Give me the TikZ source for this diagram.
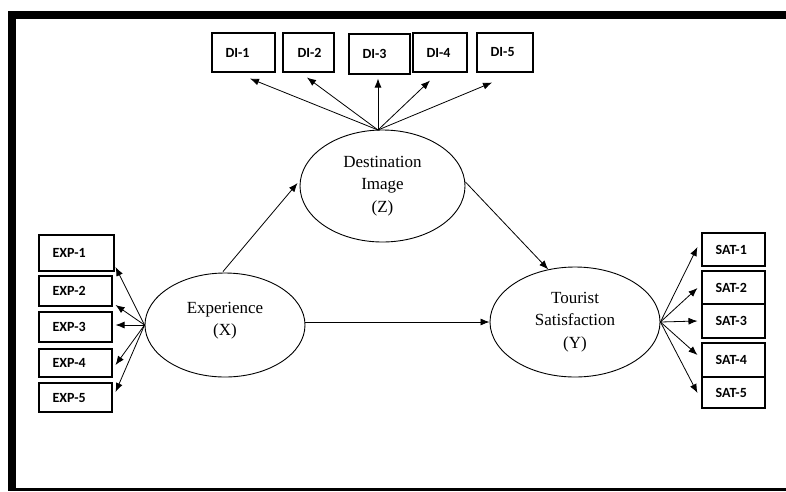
\documentclass[tikz,border=0pt]{standalone}
\usepackage{fontspec}
\setmainfont{Liberation Serif}
\newfontfamily\lblfont{Carlito}
\usetikzlibrary{arrows.meta,shapes.geometric,calc}
\begin{document}
\begin{tikzpicture}[x=1pt,y=-1pt,
  box/.style={draw,line width=1.1pt,inner sep=0pt},
  lbl/.style={font=\lblfont\bfseries\fontsize{14}{16}\selectfont,inner sep=0pt,anchor=west,xshift=14pt},
  latent/.style={draw,ellipse,line width=0.9pt,inner sep=0pt,align=center,font=\fontsize{17}{22.5}\selectfont},
  arr/.style={line width=0.8pt,-{Latex[length=9pt,width=7pt]}},
  framebar/.style={fill=black,draw=none}]
\useasboundingbox (0,0) rectangle (786,491);
% frame
\fill[framebar] (8,11) rectangle (786,19);
\fill[framebar] (8,11) rectangle (16,491);
\fill[framebar] (8,488) rectangle (786,491);
% latent variables
\node[latent,minimum width=165pt,minimum height=112pt] (dest) at (382.5,186) {Destination\\Image\\(Z)};
\node[latent,minimum width=160pt,minimum height=104pt] (exp) at (225,325) {Experience\\(X)\\[-10pt]};
\node[latent,minimum width=170pt,minimum height=110pt] (sat) at (575,322) {Tourist\\Satisfaction\\(Y)};
% DI boxes
\node[box,minimum width=63pt,minimum height=39pt,label={[lbl]west:DI-1}] (di1) at (243.5,52.5) {};
\node[box,minimum width=51pt,minimum height=39pt,label={[lbl,xshift=1pt]west:DI-2}] (di2) at (308.5,52.5) {};
\node[box,minimum width=61pt,minimum height=40pt,label={[lbl]west:DI-3}] (di3) at (379.5,54) {};
\node[box,minimum width=54pt,minimum height=39pt,label={[lbl]west:DI-4}] (di4) at (440,52.5) {};
\node[box,minimum width=56pt,minimum height=39pt,label={[lbl]west:DI-5}] (di5) at (505,52.5) {};
% EXP boxes
\node[box,minimum width=75pt,minimum height=36pt,label={[lbl]west:EXP-1}] (exp1) at (76.5,253) {};
\node[box,minimum width=73pt,minimum height=30pt,label={[lbl]west:EXP-2}] (exp2) at (75.5,291) {};
\node[box,minimum width=73pt,minimum height=30pt,label={[lbl]west:EXP-3}] (exp3) at (75.5,327) {};
\node[box,minimum width=73pt,minimum height=28pt,label={[lbl]west:EXP-4}] (exp4) at (75.5,363) {};
\node[box,minimum width=73pt,minimum height=29pt,label={[lbl]west:EXP-5}] (exp5) at (75.5,397.5) {};
% SAT boxes
\node[box,minimum width=63pt,minimum height=33pt,label={[lbl]west:SAT-1}] (sat1) at (733.5,249.5) {};
\node[box,minimum width=63pt,minimum height=33pt,label={[lbl]west:SAT-2}] (sat2) at (733.5,287.5) {};
\node[box,minimum width=63pt,minimum height=34pt,label={[lbl]west:SAT-3}] (sat3) at (733.5,321) {};
\node[box,minimum width=63pt,minimum height=34pt,label={[lbl]west:SAT-4}] (sat4) at (733.5,360) {};
\node[box,minimum width=63pt,minimum height=31pt,label={[lbl]west:SAT-5}] (sat5) at (733.5,392.5) {};
% DI arrows
\coordinate (dtop) at (378,130);
\draw[arr] (dtop) -- ([shift={(6.5,6)}]di1.south);
\draw[arr] (dtop) -- ([shift={(-1.5,5)}]di2.south);
\draw[arr] (dtop) -- ([shift={(-1.5,4)}]di3.south);
\draw[arr] (dtop) -- ([shift={(-10,8)}]di4.south);
\draw[arr] (dtop) -- ([shift={(-13,10)}]di5.south);
% EXP arrows
\draw[arr] (exp.west) -- ([shift={(1,14)}]exp1.east);
\draw[arr] (exp.west) -- ([shift={(3,14)}]exp2.east);
\draw[arr] (exp.west) -- ([shift={(3,-2)}]exp3.east);
\draw[arr] (exp.west) -- ([shift={(3,2)}]exp4.east);
\draw[arr] (exp.west) -- ([shift={(3,-5.5)}]exp5.east);
% SAT arrows
\draw[arr] (sat.east) -- ([shift={(-4,-2.5)}]sat1.west);
\draw[arr] (sat.east) -- ([shift={(-4,0.5)}]sat2.west);
\draw[arr] (sat.east) -- ([shift={(-4,0)}]sat3.west);
\draw[arr] (sat.east) -- ([shift={(-4,-5)}]sat4.west);
\draw[arr] (sat.east) -- ([shift={(-4,0.5)}]sat5.west);
% structural paths
\draw[arr] ([shift={(-2,-1)}]exp.north) -- ([shift={(-2,-3)}]dest.west);
\draw[arr] ([shift={(0,-4)}]dest.east) -- (sat.117);
\draw[arr] (exp.east |- sat.west) -- (sat.west);
\end{tikzpicture}
\end{document}
